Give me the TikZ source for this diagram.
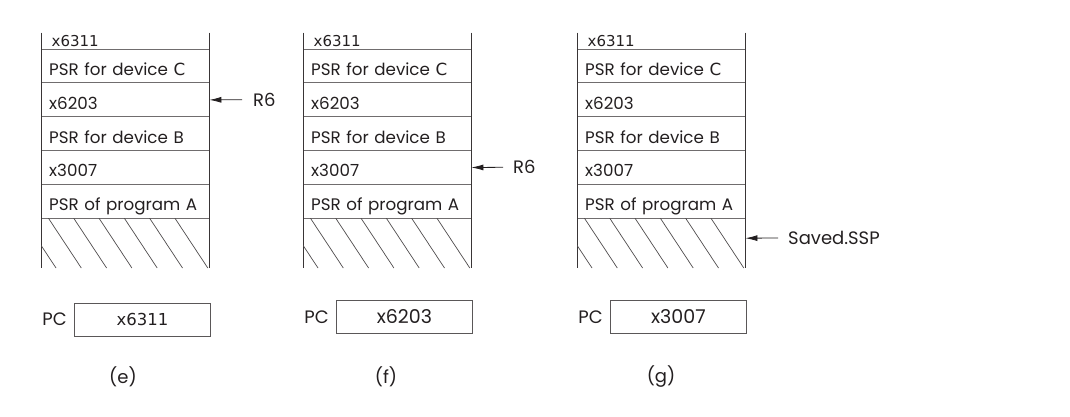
\documentclass[tikz,border=0pt]{standalone}
\usepackage{fontspec}
\setmainfont{Poppins}
\newfontfamily\tfont{DejaVu Sans}
\usetikzlibrary{arrows.meta}
\definecolor{ink}{HTML}{231F20}
\tikzset{
  vline/.style={draw=ink!90, line width=0.9pt},
  hline/.style={draw=ink!65, line width=0.8pt},
  hatchline/.style={draw=ink!80, line width=0.7pt},
  rowbox/.style={inner xsep=8pt, inner ysep=0pt, minimum width=168pt, minimum height=33.8pt,
     text width=152pt, align=left, text height=22pt, text depth=3.2pt,
     font=\fontsize{16.7}{18}\selectfont, text=ink},
  topbox/.style={rowbox, minimum height=16.3pt, text height=11pt, text depth=0pt},
  pcbox/.style={draw=ink!75, line width=0.8pt, minimum width=136pt, minimum height=33pt,
     inner sep=0pt, font=\fontsize{19}{20}\selectfont, text=ink},
  lbl/.style={inner sep=0pt, font=\fontsize{18}{19}\selectfont, text=ink},
  ptr/.style={draw=ink, line width=0.8pt, -{Latex[length=12pt,width=6pt]}},
}
\newcommand{\tx}[1]{{\tfont\fontsize{15}{16}\selectfont #1}}
\begin{document}
\begin{tikzpicture}[x=1pt,y=-1pt]
\useasboundingbox (0,0) rectangle (1070,417);
\foreach \n/\L in {e/41,f/303,g/577}{
  % rows
  \node[topbox, anchor=south west, xshift=2.5pt] (\n-r0) at (\L,49) {\tx{x6311}};
  \node[rowbox, anchor=north west] (\n-r1) at (\L,49) {PSR for device {\tfont C}};
  \node[rowbox, anchor=north west] (\n-r2) at (\L,82.8) {x6203};
  \node[rowbox, anchor=north west] (\n-r3) at (\L,116.6) {PSR for device B};
  \node[rowbox, anchor=north west] (\n-r4) at (\L,150.4) {x3007};
  \node[rowbox, anchor=north west] (\n-r5) at (\L,184.2) {PSR of program A};
  \node[rowbox, minimum height=50pt, anchor=north west] (\n-h) at (\L,218) {};
  % separators
  \foreach \yy in {49,82.8,116.6,150.4,184.2,218}
    \draw[hline] (\L,\yy) -- ++(168,0);
  % sides
  \draw[vline] (\L,32.7) -- (\L,268);
  \draw[vline] (\L+168,32.7) -- (\L+168,268);
  % hatching
  \begin{scope}
    \clip (\L,218) rectangle (\L+168,268);
    \foreach \k in {-1,...,5}
      \draw[hatchline] (\L+7.3+25.3*\k,218) -- ++(33,50);
  \end{scope}
}
% PC boxes
\node[pcbox, anchor=north west] (e-pc) at (74,302.5) {{\tfont\fontsize{16.5}{17}\selectfont x6311}};
\node[pcbox, anchor=north west] (f-pc) at (336,300) {x6203};
\node[pcbox, anchor=north west] (g-pc) at (610,300) {x3007};
\foreach \n in {e,f,g}
  \node[lbl, anchor=east] (\n-pcl) at ([xshift=-7pt]\n-pc.west) {PC};
% captions
\node[lbl] (e-cap) at (123,377) {(e)};
\node[lbl] (f-cap) at (386,377) {(f)};
\node[lbl] (g-cap) at (661,377) {(g)};
% pointers
\node[lbl, anchor=west] (e-R6) at (253,99.7) {R6};
\node[lbl, anchor=west] (f-R6) at (513,167.3) {R6};
\node[lbl, anchor=west] (g-ssp) at (788,238) {Saved.SSP};
\draw[ptr] ([xshift=-11pt]e-R6.west) -- (e-r2.east);
\draw[ptr] ([xshift=-10pt]f-R6.west) -- (f-r4.east);
\draw[ptr] ([xshift=-10pt]g-ssp.west) -- ([yshift=5pt]g-h.east);
\end{tikzpicture}
\end{document}
